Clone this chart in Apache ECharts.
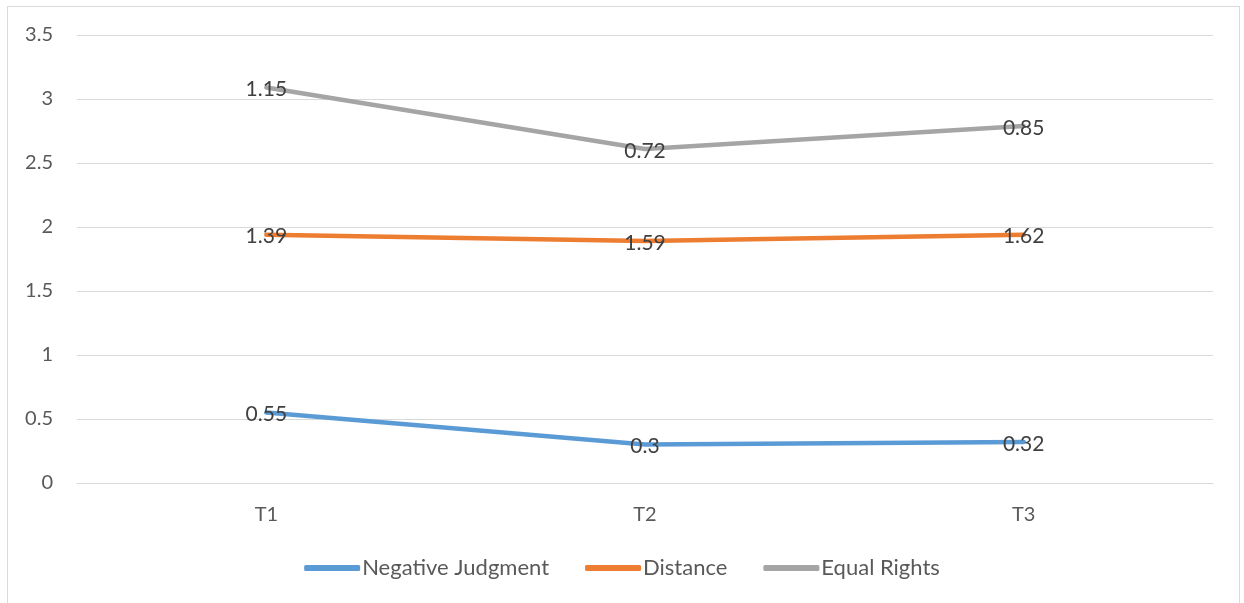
<!DOCTYPE html>
<html><head><meta charset="utf-8">
<script src="https://cdn.jsdelivr.net/npm/echarts@6/dist/echarts.min.js"></script>
<style>
html,body{margin:0;padding:0;background:#fff;}
#frame{position:absolute;left:7px;top:6px;width:1233px;height:610px;border:1px solid #d9d9d9;box-sizing:border-box;}
#chart{position:absolute;left:0;top:0;width:1244px;height:603px;}
</style></head><body>
<div id="frame"></div>
<div id="chart"></div>
<script>
const categories = ['T1','T2','T3'];
const negativeJudgment = [0.55, 0.3, 0.32];
const distance = [1.39, 1.59, 1.62];
const equalRights = [1.15, 0.72, 0.85];
const seriesNames = ['Negative Judgment','Distance','Equal Rights'];
const colors = ['#5B9BD5','#ED7D31','#A5A5A5'];
const font = 'Lato, "Open Sans", sans-serif';
const chart = echarts.init(document.getElementById('chart'));
const mk = (name, data, color) => ({
  name, type:'line', stack:'total', data, symbol:'circle', showSymbol:true, symbolSize:2,
  lineStyle:{width:4.5, color, cap:'round', join:'round'}, itemStyle:{color},
  label:{show:true, position:'inside', offset:[0,2], color:'#404040', fontSize:21, fontFamily:font},
  emphasis:{disabled:true}, animation:false
});
chart.setOption({
  animation:false,
  color: colors,
  grid:{left:77, right:31, top:35, bottom:120, containLabel:false},
  xAxis:{type:'category', data:categories, boundaryGap:true,
    axisLine:{show:true, lineStyle:{color:'#d9d9d9', width:1}}, axisTick:{show:false},
    axisLabel:{color:'#595959', fontSize:20, fontFamily:font, margin:22}},
  yAxis:{type:'value', min:0, max:3.5, interval:0.5,
    axisLine:{show:false}, axisTick:{show:false},
    splitLine:{lineStyle:{color:'#d9d9d9', width:1}},
    axisLabel:{color:'#595959', fontSize:20, fontFamily:font, margin:24}},
  legend:{top:552, left:'center', itemWidth:56, itemHeight:6, itemGap:36,
    icon:'roundRect',
    textStyle:{color:'#595959', fontSize:22, fontFamily:font, padding:[0,0,0,-3]},
    data:seriesNames},
  series:[
    mk(seriesNames[0], negativeJudgment, colors[0]),
    mk(seriesNames[1], distance, colors[1]),
    mk(seriesNames[2], equalRights, colors[2])
  ]
});
</script></body></html>
